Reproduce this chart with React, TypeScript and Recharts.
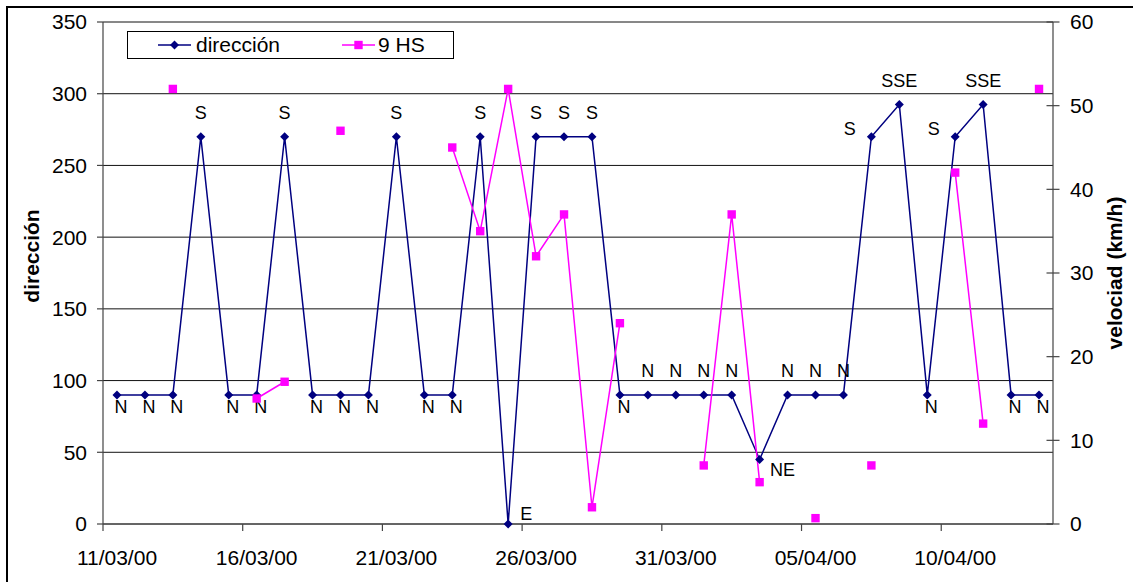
import { LineChart, Line, XAxis, YAxis, CartesianGrid, Legend, ReferenceLine } from 'recharts';

const dates = [
  '11/03/00', '12/03/00', '13/03/00', '14/03/00', '15/03/00', '16/03/00', '17/03/00', '18/03/00',
  '19/03/00', '20/03/00', '21/03/00', '22/03/00', '23/03/00', '24/03/00', '25/03/00', '26/03/00',
  '27/03/00', '28/03/00', '29/03/00', '30/03/00', '31/03/00', '01/04/00', '02/04/00', '03/04/00',
  '04/04/00', '05/04/00', '06/04/00', '07/04/00', '08/04/00', '09/04/00', '10/04/00', '11/04/00',
  '12/04/00', '13/04/00',
];

const direccion = [
  90, 90, 90, 270, 90, 90, 270, 90, 90, 90, 270, 90, 90, 270, 0, 270, 270, 270,
  90, 90, 90, 90, 90, 45, 90, 90, 90, 270, 292.5, 90, 270, 292.5, 90, 90,
];

const rumbo = [
  'N', 'N', 'N', 'S', 'N', 'N', 'S', 'N', 'N', 'N', 'S', 'N', 'N', 'S', 'E', 'S', 'S', 'S',
  'N', 'N', 'N', 'N', 'N', 'NE', 'N', 'N', 'N', 'S', 'SSE', 'N', 'S', 'SSE', 'N', 'N',
];

// velocidad a las 9 hs (km/h), null = sin dato
const hs9 = [
  null, null, 52, null, null, 15, 17, null, 47, null, null, null, 45, 35, 52, 32, 37, 2,
  24, null, null, 7, 37, 5, null, 0.7, null, 7, null, null, 42, 12, null, 52,
];

const dirTicks = [0, 50, 100, 150, 200, 250, 300, 350];
const velTicks = [0, 10, 20, 30, 40, 50, 60];

const data = dates.map((fecha, i) => ({
  fecha,
  direccion: direccion[i],
  rumbo: rumbo[i],
  hs9: hs9[i],
}));

const W = 1133;
const H = 582;
const LEFT_W = 103;
const RIGHT_W = 80;
const TOP = 22;
const X_H = 58;
const SLOT = (W - LEFT_W - RIGHT_W) / dates.length;

const NAVY = '#000080';
const MAGENTA = '#FF00FF';
const AXIS = '#444';
const FONT = '"Liberation Sans", Arial, Helvetica, sans-serif';

// label placement around the point (Excel put a few of them on other sides)
const N_ABOVE = new Set([19, 20, 21, 22, 24, 25, 26]);
const S_LEFT = new Set([27, 30]);

function labelOffset(i: number, name: string) {
  if (name === 'E') return { dx: 18, dy: -4.5 };
  if (name === 'NE') return { dx: 23, dy: 16.5 };
  if (name === 'N' && !N_ABOVE.has(i)) return { dx: 4, dy: 18.5 };
  if (name === 'S' && S_LEFT.has(i)) return { dx: -21.5, dy: -2 };
  return { dx: 0, dy: -17.8 };
}

const DirDot = (props: any) => {
  const { cx, cy, index, payload } = props;
  if (cx == null || cy == null) return <g key={`d-${index}`} />;
  const off = labelOffset(index, payload.rumbo);
  const r = 4.5;
  return (
    <g key={`d-${index}`}>
      <path d={`M${cx},${cy - r}L${cx + r},${cy}L${cx},${cy + r}L${cx - r},${cy}Z`} fill={NAVY} />
      <text
        x={cx + off.dx}
        y={cy + off.dy}
        textAnchor="middle"
        fontFamily={FONT}
        fontSize={18}
        fill="#000"
      >
        {payload.rumbo}
      </text>
    </g>
  );
};

const HsDot = (props: any) => {
  const { cx, cy, index, value } = props;
  if (cx == null || cy == null || value == null) return <g key={`h-${index}`} />;
  const s = 8.4;
  return <rect key={`h-${index}`} x={cx - s / 2} y={cy - s / 2} width={s} height={s} fill={MAGENTA} />;
};

const DateTick = (props: any) => {
  const { x, y, payload } = props;
  const bx = x - SLOT / 2;
  return (
    <g>
      <line x1={bx} x2={bx} y1={y} y2={y + 7} stroke={AXIS} strokeWidth={1.2} />
      <text x={x} y={y + 41} textAnchor="middle" fontFamily={FONT} fontSize={21} fill="#000">
        {payload.value}
      </text>
    </g>
  );
};

const VelTick = (props: any) => {
  const { x, y, payload } = props;
  return (
    <g>
      <line x1={x - 6.5} x2={x + 6.5} y1={y} y2={y} stroke={AXIS} strokeWidth={1.2} />
      <text x={x + 17} y={y} dy="0.355em" textAnchor="start" fontFamily={FONT} fontSize={21} fill="#000">
        {payload.value}
      </text>
    </g>
  );
};

const LegendBox = () => (
  <div
    style={{
      width: 327,
      height: 28,
      border: '1px solid #000',
      boxSizing: 'border-box',
      position: 'relative',
      fontFamily: FONT,
      fontSize: 21,
      color: '#000',
      background: '#fff',
    }}
  >
    <svg style={{ position: 'absolute', left: 30, top: 0 }} width={34} height={26}>
      <line x1={0} x2={33} y1={13} y2={13} stroke={NAVY} strokeWidth={1.5} />
      <path d="M16.5,8.5L21,13L16.5,17.5L12,13Z" fill={NAVY} />
    </svg>
    <span style={{ position: 'absolute', left: 68, top: 0, lineHeight: '26px' }}>dirección</span>
    <svg style={{ position: 'absolute', left: 214, top: 0 }} width={34} height={26}>
      <line x1={0} x2={33} y1={13} y2={13} stroke={MAGENTA} strokeWidth={1.5} />
      <rect x={12.3} y={8.8} width={8.4} height={8.4} fill={MAGENTA} />
    </svg>
    <span style={{ position: 'absolute', left: 250, top: 0, lineHeight: '26px' }}>9 HS</span>
  </div>
);

const LeftTitle = (props: any) => {
  const vb = props.viewBox || { x: 0, y: TOP, width: LEFT_W, height: H - TOP - X_H };
  const cx = vb.x + 31.7;
  const cy = vb.y + vb.height / 2 - 17;
  return (
    <text
      x={cx}
      y={cy}
      transform={`rotate(-90, ${cx}, ${cy})`}
      textAnchor="middle"
      dominantBaseline="central"
      fontFamily={FONT}
      fontSize={21}
      fontWeight="bold"
      fill="#000"
    >
      dirección
    </text>
  );
};

const RightTitle = (props: any) => {
  const vb = props.viewBox || { x: W - RIGHT_W, y: TOP, width: RIGHT_W, height: H - TOP - X_H };
  const cx = vb.x + 61;
  const cy = vb.y + vb.height / 2;
  return (
    <text
      x={cx}
      y={cy}
      transform={`rotate(-90, ${cx}, ${cy})`}
      textAnchor="middle"
      dominantBaseline="central"
      fontFamily={FONT}
      fontSize={21}
      fontWeight="bold"
      fill="#000"
    >
      velociad (km/h)
    </text>
  );
};

export default function App() {
  return (
    <div style={{ position: 'relative', width: W, height: H, overflow: 'hidden', background: '#fff' }}>
      <style>{'body{margin:0;background:#fff;}'}</style>
      <div
        style={{
          position: 'absolute',
          left: 6,
          top: 6,
          width: W + 40,
          height: H + 40,
          border: '2px solid #000',
          pointerEvents: 'none',
        }}
      />
      <LineChart width={W} height={H} data={data} margin={{ top: TOP, right: 0, bottom: 0, left: 0 }}>
        <CartesianGrid yAxisId="left" vertical={false} stroke="#111" strokeWidth={1} />
        <XAxis
          dataKey="fecha"
          height={X_H}
          interval={4}
          padding={{ left: SLOT / 2, right: SLOT / 2 }}
          tickLine={false}
          tickSize={0}
          tickMargin={0}
          tick={<DateTick />}
          axisLine={{ stroke: AXIS, strokeWidth: 1.2 }}
        />
        <YAxis
          yAxisId="left"
          width={LEFT_W}
          domain={[0, 350]}
          ticks={dirTicks}
          interval={0}
          tickSize={6}
          tickMargin={10}
          tickLine={{ stroke: AXIS, strokeWidth: 1.2 }}
          axisLine={{ stroke: AXIS, strokeWidth: 1.2 }}
          tick={{ fontFamily: FONT, fontSize: 21, fill: '#000' }}
          label={{ content: <LeftTitle /> }}
        />
        <YAxis
          yAxisId="right"
          orientation="right"
          width={RIGHT_W}
          domain={[0, 60]}
          ticks={velTicks}
          interval={0}
          tickSize={0}
          tickMargin={0}
          tickLine={false}
          tick={<VelTick />}
          axisLine={{ stroke: AXIS, strokeWidth: 1.2 }}
          label={{ content: <RightTitle /> }}
        />
        <ReferenceLine yAxisId="left" y={350} stroke="#888" strokeWidth={1.2} />
        <Legend
          layout="horizontal"
          verticalAlign="middle"
          align="center"
          content={<LegendBox />}
          wrapperStyle={{ left: 127, top: 31, width: 327, height: 28 }}
        />
        <Line
          yAxisId="left"
          type="linear"
          dataKey="direccion"
          stroke={NAVY}
          strokeWidth={1.5}
          dot={(p: any) => <DirDot {...p} />}
          activeDot={false}
          isAnimationActive={false}
        />
        <Line
          yAxisId="right"
          type="linear"
          dataKey="hs9"
          stroke={MAGENTA}
          strokeWidth={1.5}
          connectNulls={false}
          dot={(p: any) => <HsDot {...p} />}
          activeDot={false}
          isAnimationActive={false}
        />
      </LineChart>
    </div>
  );
}
